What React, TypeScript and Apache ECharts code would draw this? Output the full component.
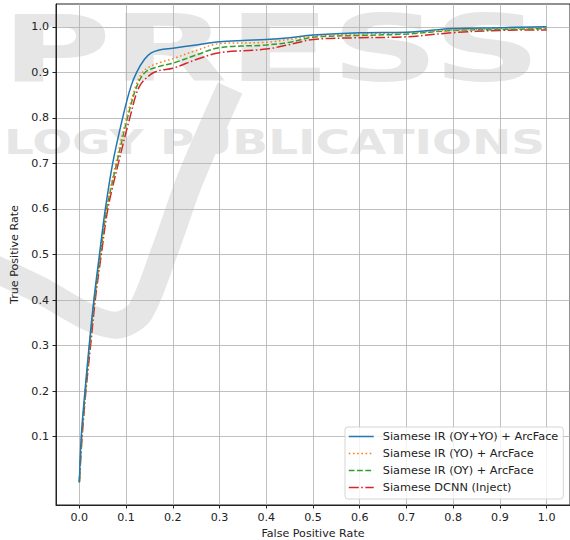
import React, { useEffect, useRef } from "react";
import * as echarts from "echarts";

const seriesNames = [
  "Siamese IR (OY+YO) + ArcFace",
  "Siamese IR (YO) + ArcFace",
  "Siamese IR (OY) + ArcFace",
  "Siamese DCNN (Inject)",
];

const fprOYYO = [0, 0.004, 0.012, 0.021, 0.031, 0.043, 0.0556, 0.0713, 0.0926, 0.11, 0.1226, 0.139, 0.153, 0.171, 0.2, 0.25, 0.3, 0.35, 0.4, 0.45, 0.5, 0.6, 0.7, 0.8, 0.9, 1.0];
const tprOYYO = [0, 0.1, 0.2, 0.3, 0.4, 0.5, 0.6, 0.7, 0.8, 0.868, 0.9, 0.928, 0.942, 0.949, 0.953, 0.96, 0.967, 0.97, 0.972, 0.976, 0.982, 0.987, 0.988, 0.996, 0.998, 1.0];

const fprYO = [0, 0.005, 0.013, 0.022, 0.032, 0.045, 0.058, 0.078, 0.101, 0.12, 0.135, 0.15, 0.171, 0.2, 0.25, 0.3, 0.4, 0.5, 0.6, 0.7, 0.8, 0.9, 1.0];
const tprYO = [0, 0.1, 0.2, 0.3, 0.4, 0.5, 0.6, 0.7, 0.8, 0.868, 0.9, 0.912, 0.921, 0.93, 0.948, 0.963, 0.966, 0.979, 0.984, 0.987, 0.993, 0.996, 0.998];

const fprOY = [0, 0.005, 0.013, 0.022, 0.032, 0.045, 0.0585, 0.0798, 0.103, 0.1226, 0.141, 0.171, 0.2, 0.25, 0.3, 0.4, 0.45, 0.5, 0.6, 0.7, 0.8, 0.9, 1.0];
const tprOY = [0, 0.1, 0.2, 0.3, 0.4, 0.5, 0.6, 0.7, 0.8, 0.868, 0.9, 0.913, 0.92, 0.938, 0.954, 0.96, 0.966, 0.977, 0.981, 0.984, 0.992, 0.994, 0.996];

const fprDCNN = [0, 0.006, 0.014, 0.024, 0.034, 0.047, 0.061, 0.0834, 0.108, 0.128, 0.152, 0.171, 0.2, 0.25, 0.3, 0.4, 0.45, 0.5, 0.6, 0.7, 0.8, 0.9, 1.0];
const tprDCNN = [0, 0.1, 0.2, 0.3, 0.4, 0.5, 0.6, 0.7, 0.8, 0.868, 0.895, 0.904, 0.909, 0.928, 0.943, 0.951, 0.961, 0.972, 0.976, 0.978, 0.987, 0.992, 0.993];

const xTicks = [0, 0.1, 0.2, 0.3, 0.4, 0.5, 0.6, 0.7, 0.8, 0.9, 1.0];
const yTicks = [0.1, 0.2, 0.3, 0.4, 0.5, 0.6, 0.7, 0.8, 0.9, 1.0];

const colors = ["#1f77b4", "#ff7f0e", "#2ca02c", "#d62728"];
const dashes: any[] = ["solid", [1.6, 2.6], [5.8, 2.5], [10, 2.5, 1.6, 2.5]];

const pair = (xs: number[], ys: number[]) => xs.map((x, i) => [x, ys[i]]);

const FONT = "DejaVu Sans";
const FS = 11.1;

export default function App() {
  const ref = useRef<HTMLDivElement>(null);
  useEffect(() => {
    if (!ref.current) return;
    const chart = echarts.init(ref.current, null, { renderer: "svg" });
    const dataSets = [
      pair(fprOYYO, tprOYYO),
      pair(fprYO, tprYO),
      pair(fprOY, tprOY),
      pair(fprDCNN, tprDCNN),
    ];
    const wm = "#e6e6e6";
    chart.setOption({
      animation: false,
      backgroundColor: "#ffffff",
      graphic: [
        {
          type: "polyline",
          z: -10,
          silent: true,
          shape: {
            points: [[-20, 262], [40, 290], [90, 318], [118, 325], [140, 312], [165, 250], [190, 180], [230, 88]],
            smooth: 0.3,
          },
          style: { stroke: wm, lineWidth: 27, fill: null },
        },
        {
          type: "text",
          z: -10,
          silent: true,
          x: 1,
          y: 2.5,
          scaleX: 1.64,
          style: { text: "PRESS", font: `bold 92px ${FONT}`, fill: wm, verticalAlign: "top" },
        },
        {
          type: "text",
          z: -10,
          silent: true,
          x: 4,
          y: 125.5,
          scaleX: 1.38,
          style: { text: "LOGY PUBLICATIONS", font: `bold 34px ${FONT}`, fill: wm, verticalAlign: "top" },
        },
      ],
      grid: {
        left: 56,
        right: 0,
        top: 4,
        bottom: 35,
        show: true,
        outerBoundsMode: "none",
        containLabel: false,
        borderColor: "#222",
        borderWidth: 1,
        backgroundColor: "transparent",
      },
      legend: {
        orient: "vertical",
        left: 345,
        top: 427,
        padding: [3, 5, 5, 3],
        itemWidth: 25,
        itemHeight: 13,
        itemGap: 4,
        backgroundColor: "rgba(255,255,255,0.8)",
        borderColor: "#d5d5d5",
        borderWidth: 1,
        borderRadius: 3,
        itemStyle: { opacity: 0 },
        lineStyle: { width: 1.5 },
        textStyle: { fontFamily: FONT, fontSize: 11.3, color: "#222", lineHeight: 13, padding: [0, 0, 0, 4] },
        data: seriesNames,
      },
      xAxis: {
        type: "value",
        min: -0.05,
        max: 1.05,
        name: "False Positive Rate",
        nameLocation: "middle",
        nameGap: 23,
        nameTextStyle: { fontFamily: FONT, fontSize: FS, color: "#222", lineHeight: 11 },
        axisLine: { show: true, onZero: false, lineStyle: { color: "#222", width: 1 } },
        axisTick: { show: true, length: 3.5, customValues: xTicks, lineStyle: { color: "#222" } },
        axisLabel: {
          customValues: xTicks,
          fontFamily: FONT,
          fontSize: FS,
          color: "#222",
          margin: 7,
          formatter: (v: number) => v.toFixed(1),
        },
        splitLine: { show: true, lineStyle: { color: "#b0b0b0", width: 0.8 } },
      },
      yAxis: {
        type: "value",
        min: -0.05,
        max: 1.05,
        name: "True Positive Rate",
        nameLocation: "middle",
        nameGap: 31,
        nameTextStyle: { fontFamily: FONT, fontSize: FS, color: "#222" },
        axisLine: { show: true, onZero: false, lineStyle: { color: "#222", width: 1 } },
        axisTick: { show: true, length: 3.5, customValues: yTicks, lineStyle: { color: "#222" } },
        axisLabel: {
          customValues: yTicks,
          fontFamily: FONT,
          fontSize: FS,
          color: "#222",
          margin: 7,
          formatter: (v: number) => v.toFixed(1),
        },
        splitLine: { show: true, lineStyle: { color: "#b0b0b0", width: 0.8 } },
      },
      series: seriesNames.map((name, i) => ({
        name,
        type: "line",
        data: dataSets[i],
        showSymbol: false,
        symbol: "none",
        smooth: 0.35,
        z: 10 - i,
        lineStyle: { color: colors[i], width: 1.5, type: dashes[i], cap: "butt" },
        itemStyle: { color: colors[i] },
      })),
    });
    return () => chart.dispose();
  }, []);
  return (
    <div
      ref={ref}
      style={{ position: "absolute", left: 0, top: 0, width: 570, height: 540 }}
    />
  );
}
